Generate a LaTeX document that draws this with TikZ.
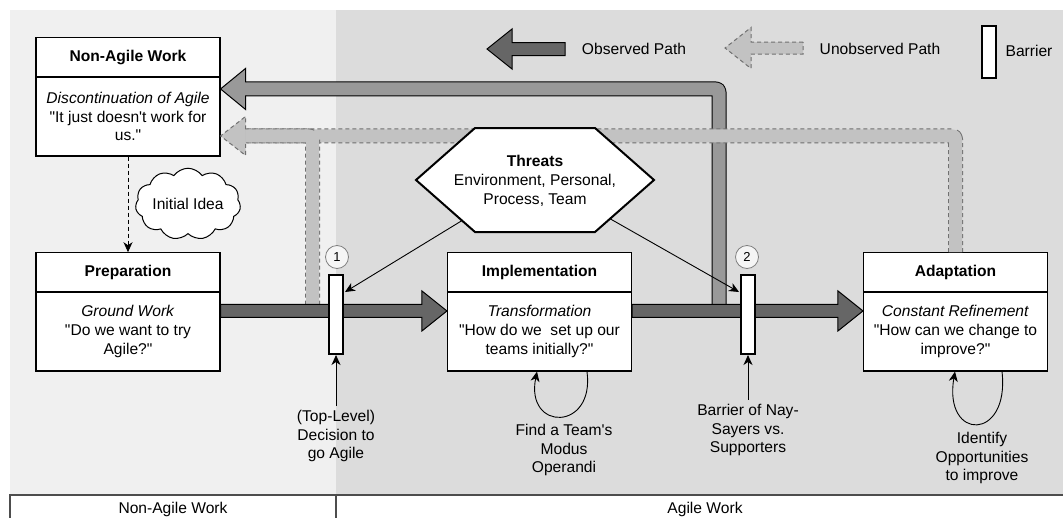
\documentclass[tikz,border=0pt]{standalone}
\usepackage{fontspec}
\setmainfont{Liberation Sans}[Ligatures=TeXOff]
\usetikzlibrary{shapes.symbols,arrows.meta,calc}
\definecolor{bgL}{HTML}{F0F0F0}
\definecolor{bgD}{HTML}{DCDCDC}
\definecolor{obsF}{HTML}{666666}
\definecolor{fbF}{HTML}{999999}
\definecolor{unF}{HTML}{C2C2C2}
\definecolor{unB}{HTML}{707070}
\definecolor{circB}{HTML}{808080}
\definecolor{tbl}{HTML}{4D4D4D}
\newcommand\mainarrow[2]{%
  \draw[line width=1pt, fill=obsF] ($(#1)+(0,-6.5)$) -- ($(#2)+(-25,-6.5)$) -- ($(#2)+(-25,-20)$) -- (#2) -- ($(#2)+(-25,20)$) -- ($(#2)+(-25,6.5)$) -- ($(#1)+(0,6.5)$) -- cycle;}
\begin{document}
\begin{tikzpicture}[x=1pt,y=-1pt,
  every node/.style={font=\fontsize{15.6}{18.7}\selectfont, align=center, inner sep=0pt},
  hdr/.style={draw, fill=white, line width=1.1pt, minimum width=184pt, minimum height=39.5pt, font=\fontsize{15.6}{18.7}\selectfont\bfseries},
  bdy/.style={draw, fill=white, line width=1.1pt, minimum width=184pt, minimum height=79pt},
  barrier/.style={draw, fill=white, line width=2pt, minimum width=14pt, minimum height=79pt},
  numc/.style={circle, draw=circB, fill=white!96!black, line width=0.8pt, minimum size=23pt, font=\fontsize{13}{15}\selectfont},
  thinarrow/.style={-{Stealth[length=10pt,width=9pt,inset=3pt]}, line width=0.9pt},
  annot/.style={inner sep=4pt},
  obsborder/.style={line width=15pt, draw=black, line join=round, rounded corners=3pt},
  obsfill/.style={line width=13pt, draw=fbF, line join=round, rounded corners=3pt},
  unborder/.style={line width=15pt, draw=unB, dash pattern=on 4pt off 3pt, line join=round, rounded corners=3pt},
  unfill/.style={line width=13pt, draw=unF, line join=round, rounded corners=3pt}
]
\useasboundingbox (0,0) rectangle (1063,517);
% backgrounds
\fill[bgL] (10,10) rectangle (336,495);
\fill[bgD] (336,10) rectangle (1063,495);
\draw[line width=1.2pt, tbl] (10,525) -- (10,495) -- (1063,495);
\draw[line width=1.2pt, tbl] (336,495) -- (336,525);
\node (nalab) at (173,509) {Non-Agile Work};
\node (alab) at (705,509) {Agile Work};

% boxes
\node[hdr] (nat) at (128,57) {Non-Agile Work};
\node[bdy] (nab) at (128,116.5) {\textit{Discontinuation of Agile}\\"It just doesn't work for\\us."};
\node[hdr] (prept) at (128,272.5) {Preparation};
\node[bdy] (prepb) at (128,331.5) {\textit{Ground Work}\\"Do we want to try\\Agile?"};
\node[hdr] (implt) at (539.5,272.5) {Implementation};
\node[bdy] (implb) at (539.5,331.5) {\textit{Transformation}\\"How do we\ \ set up our\\teams initially?"};
\node[hdr] (adapt) at (955.5,272.5) {Adaptation};
\node[bdy] (adapb) at (955.5,331.5) {\textit{Constant Refinement}\\"How can we change to\\improve?"};

% cloud
\node[cloud, draw, fill=white, line width=1pt, cloud puffs=11, cloud puff arc=110, aspect=1.7, minimum width=100pt, minimum height=62pt] (idea) at (188,204) {Initial Idea};
\draw[thinarrow, dash pattern=on 4pt off 3pt] (nab.south) -- (prept.north);

% main arrow coordinates
\coordinate (a1s) at ($(prepb.north east)+(0,19.5)$);
\coordinate (a1e) at ($(implb.north west)+(0,19.5)$);
\coordinate (a2s) at ($(implb.north east)+(0,19.5)$);
\coordinate (a2e) at ($(adapb.north west)+(0,19.5)$);

% observed feedback path
\coordinate (fbo) at ($(nab.north east)+(0,12.5)$);
\coordinate (fbb) at (719,311.5);
\draw[obsborder] (fbb) |- ($(fbo)+(25,0)$);
\draw[obsfill] (fbb) |- ($(fbo)+(25,0)$);
\filldraw[fill=fbF, draw=black, line width=1pt, line join=miter] ($(fbo)+(25,-6.5)$) -- ($(fbo)+(25,-20.5)$) -- (fbo) -- ($(fbo)+(25,20.5)$) -- ($(fbo)+(25,6.5)$);

% unobserved feedback paths
\coordinate (fbu) at ($(nab.north east)+(0,59.5)$);
\coordinate (fbub) at (312.5,311.5);
\draw[unborder] (adapt.north) |- ($(fbu)+(25,0)$);
\draw[unfill] (adapt.north) |- ($(fbu)+(25,0)$);
\draw[unborder] (fbub) |- ($(fbu)+(25,0)$);
\draw[unfill] (fbub) |- ($(fbu)+(25,0)$);
\filldraw[fill=unF, draw=unB, line width=1pt, dash pattern=on 4pt off 3pt, line join=miter] ($(fbu)+(25,-6.5)$) -- ($(fbu)+(25,-19.5)$) -- (fbu) -- ($(fbu)+(25,19.5)$) -- ($(fbu)+(25,6.5)$);

% main arrows
\mainarrow{a1s}{a1e}
\mainarrow{a2s}{a2e}

% threats hexagon
\coordinate (hL) at (416,180);
\coordinate (hTL) at (475,128);
\coordinate (hTR) at (595,128);
\coordinate (hR) at (654,180);
\coordinate (hBR) at (595,232);
\coordinate (hBL) at (475,232);
\filldraw[fill=white, draw=black, line width=2pt] (hL) -- (hTL) -- (hTR) -- (hR) -- (hBR) -- (hBL) -- cycle;
\node (threats) at (535,181) {\textbf{Threats}\\Environment, Personal,\\Process, Team};

% barriers
\node[barrier] (b1) at (336,314.5) {};
\node[barrier] (b2) at (748,314.5) {};
\node[numc] (n1) at (337,257) {1};
\node[numc] (n2) at (747,257) {2};
\draw[thinarrow] ($(hL)!0.78!(hBL)$) -- ($(b1.north east)+(1,18)$);
\draw[thinarrow] ($(hR)!0.745!(hBR)$) -- ($(b2.north west)+(-1,18)$);

% annotations
\node[annot] (dec) at (336,436) {(Top-Level)\\Decision to\\go Agile};
\draw[thinarrow] (dec.north) -- (b1.south);
\node[annot] (nay) at (748,430) {Barrier of Nay-\\Sayers vs.\\Supporters};
\draw[thinarrow] (nay.north) -- (b2.south);
\node (modus) at (564,450) {Find a Team's\\Modus\\Operandi};
\node (ident) at (982,458) {Identify\\Opportunities\\to improve};
\draw[thinarrow] ($(implb.south)+(47.5,0)$) .. controls +(8,60) and +(-12,60) .. ($(implb.south)+(-2.5,0)$);
\draw[thinarrow] ($(adapb.south)+(46.5,0)$) .. controls +(8,70) and +(-12,70) .. ($(adapb.south)+(-0.5,0)$);

% legend
\draw[line width=1pt, fill=obsF] (565,42.5) -- (512,42.5) -- (512,29) -- (487,49) -- (512,69) -- (512,55.5) -- (565,55.5) -- cycle;
\node (obsl) at (634,49) {Observed Path};
\draw[line width=1pt, fill=unF, draw=unB, dash pattern=on 4pt off 3pt] (803,42) -- (751,42) -- (751,27.5) -- (725,48) -- (751,68.5) -- (751,54) -- (803,54) -- cycle;
\node (unobsl) at (880,49) {Unobserved Path};
\node[barrier, minimum height=52pt] (barleg) at (988.5,52) {};
\node (barl) at (1029,51) {Barrier};
\end{tikzpicture}
\end{document}
